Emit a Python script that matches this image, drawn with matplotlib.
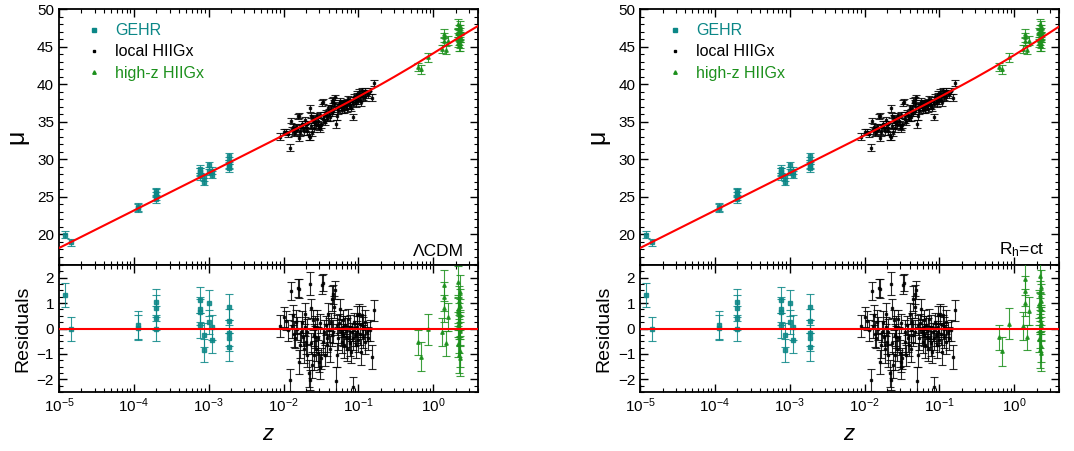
import matplotlib
matplotlib.use("Agg")
import matplotlib.pyplot as plt
from matplotlib.lines import Line2D
from matplotlib.ticker import MultipleLocator, LogLocator, NullFormatter

plt.rcParams['font.family'] = ['Liberation Sans', 'DejaVu Sans']
plt.rcParams['mathtext.fontset'] = 'custom'
plt.rcParams['mathtext.rm'] = 'Liberation Sans'
plt.rcParams['mathtext.it'] = 'Liberation Sans:italic'

TEAL = '#0b8787'
GREEN = '#1c901c'

# model curves (distance modulus)
z_model = [1e-5, 1e-4, 1e-3, 0.01, 0.02, 0.05, 0.1, 0.2, 0.3, 0.5, 0.7, 1.0, 1.5, 2.0, 2.5, 3.0, 4.0]
mu_lcdm = [18.16, 23.16, 28.16, 33.19, 34.70, 36.73, 38.32, 39.96, 40.96, 42.26, 43.15, 44.10, 45.19, 45.95, 46.55, 47.03, 47.77]
mu_rhct = [18.16, 23.16, 28.16, 33.17, 34.69, 36.71, 38.26, 39.86, 40.82, 42.08, 42.94, 43.87, 44.96, 45.75, 46.37, 46.88, 47.69]

# GEHR
z_gehr = [1.22e-5, 1.46e-5, 1.15e-4, 1.15e-4, 2.0e-4, 2.0e-4, 2.0e-4, 2.0e-4,
          7.7e-4, 7.7e-4, 7.7e-4, 7.7e-4, 8.6e-4, 8.6e-4, 1.0e-3, 1.0e-3,
          1.12e-3, 1.12e-3, 1.87e-3, 1.87e-3, 1.87e-3, 1.87e-3, 1.87e-3]
mu_gehr = [19.91, 18.95, 23.59, 23.49, 25.71, 25.47, 25.08, 24.64,
           28.71, 28.34, 28.25, 27.72, 27.57, 26.97, 29.16, 28.41,
           28.46, 27.95, 30.36, 29.82, 29.34, 29.14, 28.81]
err_gehr = [0.47, 0.48, 0.55, 0.50, 0.51, 0.50, 0.48, 0.47,
            0.50, 0.48, 0.52, 0.50, 0.46, 0.46, 0.50, 0.48,
            0.50, 0.49, 0.50, 0.47, 0.52, 0.50, 0.55]
res_gehr_lcdm = [1.32, -0.03, 0.13, 0.03, 1.04, 0.80, 0.41, -0.03,
                 1.12, 0.75, 0.66, 0.13, -0.26, -0.86, 1.00, 0.25,
                 0.05, -0.46, 0.84, 0.30, -0.18, -0.38, -0.71]
res_gehr_rhct = [1.32, -0.03, 0.13, 0.03, 1.04, 0.80, 0.41, -0.03,
                 1.12, 0.75, 0.66, 0.13, -0.26, -0.86, 1.00, 0.25,
                 0.05, -0.46, 0.84, 0.30, -0.18, -0.38, -0.71]

# local HIIGx
z_loc = [0.00885, 0.01021, 0.01085, 0.01130, 0.01202, 0.01252, 0.01292, 0.01332, 0.01388, 0.01431,
         0.01460, 0.01537, 0.01585, 0.01618, 0.01668, 0.01720, 0.01756, 0.01810, 0.01848, 0.01905,
         0.01945, 0.02005, 0.02047, 0.02154, 0.02222, 0.02268, 0.02314, 0.02338, 0.02386, 0.02461,
         0.02512, 0.02564, 0.02644, 0.02727, 0.02783, 0.02870, 0.02929, 0.03020, 0.03083, 0.03179,
         0.03244, 0.03345, 0.03415, 0.03485, 0.03594, 0.03706, 0.03783, 0.03861, 0.03981, 0.04105,
         0.04190, 0.04320, 0.04410, 0.04500, 0.04642, 0.04738, 0.04886, 0.05038, 0.05142, 0.05248,
         0.05412, 0.05580, 0.05696, 0.05813, 0.05995, 0.06181, 0.06310, 0.06441, 0.06643, 0.06849,
         0.06991, 0.07136, 0.07356, 0.07586, 0.07743, 0.07903, 0.08148, 0.08402, 0.08577, 0.08755,
         0.09027, 0.09309, 0.09502, 0.09698, 0.1000, 0.1031, 0.1052, 0.1074, 0.1108, 0.1142,
         0.1166, 0.1227, 0.1292, 0.1359, 0.1431, 0.1506, 0.1618, 0.01506, 0.02047, 0.02644,
         0.03083, 0.04642, 0.06310, 0.07743, 0.09502, 0.1108, 0.1227]
mu_loc = [33.01, 33.68, 33.67, 33.38, 31.55, 35.14, 33.84, 34.32, 33.67, 33.57,
          34.27, 35.72, 32.88, 35.80, 33.64, 34.24, 34.67, 34.15, 33.73, 35.18,
          34.71, 34.19, 33.70, 33.09, 32.90, 36.75, 35.81, 34.45, 33.65, 35.49,
          34.94, 34.20, 35.39, 34.59, 35.82, 35.11, 34.56, 34.30, 34.15, 34.55,
          37.50, 37.64, 35.36, 35.80, 34.95, 36.20, 35.72, 35.50, 36.82, 36.23,
          35.55, 36.67, 36.20, 37.68, 37.92, 37.47, 38.22, 34.69, 35.75, 36.98,
          36.53, 37.19, 37.79, 36.95, 36.63, 37.55, 37.01, 36.65, 37.51, 37.12,
          36.71, 37.55, 38.01, 37.30, 37.14, 36.86, 37.72, 37.53, 35.68, 38.28,
          37.83, 37.50, 38.73, 38.33, 37.86, 38.98, 38.24, 37.57, 39.08, 38.30,
          38.75, 38.28, 38.79, 38.65, 39.09, 38.18, 40.18, 34.07, 34.62, 34.99,
          35.86, 36.44, 37.34, 37.80, 38.08, 38.69, 39.06]
err_loc = [0.45, 0.40, 0.38, 0.42, 0.44, 0.36, 0.48, 0.40, 0.52, 0.39,
           0.46, 0.34, 0.47, 0.38, 0.50, 0.42, 0.44, 0.36, 0.55, 0.41,
           0.38, 0.49, 0.45, 0.52, 0.40, 0.47, 0.36, 0.43, 0.50, 0.39,
           0.44, 0.57, 0.41, 0.48, 0.35, 0.46, 0.52, 0.40, 0.47, 0.43,
           0.39, 0.33, 0.50, 0.45, 0.42, 0.38, 0.55, 0.44, 0.40, 0.47,
           0.51, 0.36, 0.43, 0.49, 0.38, 0.42, 0.35, 0.56, 0.48, 0.40,
           0.45, 0.37, 0.42, 0.50, 0.46, 0.39, 0.44, 0.52, 0.36, 0.41,
           0.48, 0.43, 0.38, 0.47, 0.50, 0.42, 0.36, 0.45, 0.40, 0.37,
           0.44, 0.49, 0.35, 0.42, 0.46, 0.39, 0.43, 0.51, 0.37, 0.45,
           0.40, 0.48, 0.38, 0.44, 0.41, 0.47, 0.42, 0.46, 0.50, 0.43,
           0.39, 0.45, 0.41, 0.48, 0.44, 0.40, 0.46]
res_loc_lcdm = [0.10, 0.46, 0.31, -0.07, -2.03, 1.47, 0.10, 0.52, -0.22, -0.39,
                0.26, 1.60, -1.31, 1.57, -0.66, -0.13, 0.26, -0.33, -0.79, 0.59,
                0.07, -0.52, -1.05, -1.77, -2.03, 1.77, 0.79, -0.59, -1.44, 0.33,
                -0.26, -1.05, 0.07, -0.79, 0.39, -0.39, -0.98, -1.31, -1.51, -1.18,
                1.73, 1.80, -0.52, -0.13, -1.05, 0.13, -0.39, -0.66, 0.59, -0.07,
                -0.79, 0.26, -0.26, 1.18, 1.35, 0.85, 1.53, -2.07, -1.05, 0.13,
                -0.39, 0.20, 0.76, -0.13, -0.52, 0.33, -0.26, -0.66, 0.13, -0.33,
                -0.79, 0.00, 0.39, -0.39, -0.59, -0.92, -0.13, -0.39, -2.29, 0.26,
                -0.26, -0.66, 0.52, 0.07, -0.46, 0.59, -0.20, -0.92, 0.52, -0.33,
                0.07, -0.52, -0.13, -0.39, -0.07, -1.11, 0.72, 0.00, -0.13, -0.33,
                0.20, -0.13, 0.07, 0.07, -0.13, 0.13, 0.26]
res_loc_rhct = res_loc_lcdm  # the two models agree to <0.1 mag below z=0.2

# high-z HIIGx
z_hz = [0.62, 0.68, 0.84, 1.29, 1.40, 1.40, 1.40, 1.46, 1.58,
        2.17, 2.25, 2.20, 2.30, 2.13, 2.28, 2.20, 2.17, 2.25, 2.30,
        2.20, 2.13, 2.28, 2.20, 2.25, 2.17]
mu_hz = [42.28, 41.96, 43.60, 44.65, 46.70, 46.25, 45.79, 44.53, 45.79,
         48.02, 47.69, 47.31, 47.23, 46.87, 46.86, 46.51, 46.32, 46.27, 46.23,
         45.91, 45.52, 45.41, 45.16, 45.12, 46.82]
err_hz = [0.50, 0.56, 0.60, 0.55, 0.60, 0.58, 0.52, 0.50, 0.55,
          0.62, 0.70, 0.58, 0.65, 0.55, 0.60, 0.72, 0.50, 0.64, 0.58,
          0.66, 0.54, 0.60, 0.70, 0.72, 0.56]
res_hz_lcdm = [-0.55, -1.11, -0.03, -0.13, 1.70, 1.25, 0.79, -0.59, 0.46,
               1.85, 1.42, 1.10, 0.90, 0.75, 0.55, 0.30, 0.15, 0.00, -0.10,
               -0.30, -0.60, -0.90, -1.05, -1.15, 0.65]
res_hz_rhct = [-0.35, -0.90, 0.19, 0.10, 1.93, 1.48, 1.02, -0.35, 0.69,
               2.05, 1.62, 1.30, 1.10, 0.95, 0.75, 0.50, 0.35, 0.20, 0.10,
               -0.10, -0.40, -0.70, -0.85, -0.95, 0.85]


def style_axis(ax):
    ax.set_xscale('log')
    ax.set_xlim(1e-5, 4.0)
    ax.xaxis.set_major_locator(LogLocator(base=10, numticks=12))
    ax.xaxis.set_minor_locator(LogLocator(base=10, subs=range(2, 10), numticks=12))
    ax.xaxis.set_minor_formatter(NullFormatter())
    ax.tick_params(which='both', direction='in', top=True, right=True, labelsize=11)
    ax.tick_params(which='major', length=6, width=1)
    ax.tick_params(which='minor', length=3, width=0.8)
    for s in ax.spines.values():
        s.set_linewidth(1.3)


def draw_points(ax, z, y, err, color, marker, ms):
    ax.errorbar(z, y, yerr=err, fmt=marker, color=color, ms=ms, mec=color,
                ecolor=color, elinewidth=0.8, capsize=3, capthick=0.8,
                alpha=0.85, zorder=3)


def draw_panel(left, mu_model, res_gehr, res_loc, res_hz, label):
    ax = fig.add_axes([left, 0.4124, 0.3905, 0.5676])
    axr = fig.add_axes([left, 0.1308, 0.3905, 0.2816])

    ax.plot(z_model, mu_model, color='red', lw=1.5, zorder=4)
    draw_points(ax, z_gehr, mu_gehr, err_gehr, TEAL, 's', 2.5)
    draw_points(ax, z_loc, mu_loc, err_loc, 'black', 's', 2)
    draw_points(ax, z_hz, mu_hz, err_hz, GREEN, '^', 2.5)
    style_axis(ax)
    ax.set_ylim(15.9, 50)
    ax.yaxis.set_major_locator(MultipleLocator(5))
    ax.yaxis.set_minor_locator(MultipleLocator(1))
    ax.tick_params(labelbottom=False)
    ax.set_ylabel('μ', fontsize=18, labelpad=6)
    ax.text(0.965, 0.025, label, transform=ax.transAxes, ha='right', va='bottom', fontsize=12.5)

    handles = [Line2D([], [], ls='', marker='s', ms=2.5, color=TEAL),
               Line2D([], [], ls='', marker='s', ms=2, color='black'),
               Line2D([], [], ls='', marker='^', ms=2.5, color=GREEN)]
    ax.legend(handles, ['GEHR', 'local HIIGx', 'high-z HIIGx'], loc='upper left',
              bbox_to_anchor=(0.02, 1.0), frameon=False, fontsize=11.5,
              handlelength=1.5, handletextpad=0.6, labelspacing=0.38,
              labelcolor=[TEAL, 'black', GREEN])

    axr.axhline(0, color='red', lw=1.5, zorder=4)
    draw_points(axr, z_gehr, res_gehr, err_gehr, TEAL, 's', 2.5)
    draw_points(axr, z_loc, res_loc, err_loc, 'black', 's', 2)
    draw_points(axr, z_hz, res_hz, err_hz, GREEN, '^', 2.5)
    style_axis(axr)
    axr.set_ylim(-2.5, 2.5)
    axr.yaxis.set_major_locator(MultipleLocator(1))
    axr.yaxis.set_minor_locator(MultipleLocator(0.25))
    axr.set_ylabel('Residuals', fontsize=14, labelpad=4)
    axr.set_xlabel('$z$', fontsize=16, labelpad=6)


fig = plt.figure(figsize=(10.74, 4.51), dpi=100)
draw_panel(0.0549, mu_lcdm, res_gehr_lcdm, res_loc_lcdm, res_hz_lcdm, 'ΛCDM')
draw_panel(0.5959, mu_rhct, res_gehr_rhct, res_loc_rhct, res_hz_rhct, 'R$_\\mathrm{h}$=ct')
fig.savefig('out.png', dpi=100)
